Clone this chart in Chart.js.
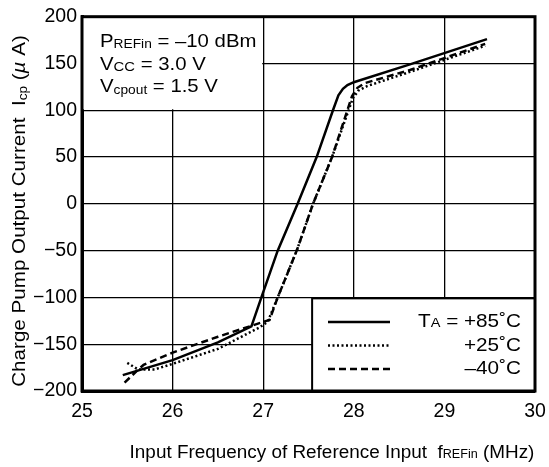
<!DOCTYPE html>
<html lang="en">
<head>
    <meta charset="UTF-8">
    <title>Charge Pump Output Current</title>
    <script src="https://cdn.jsdelivr.net/npm/chart.js"></script>
    <style>
        html, body { margin: 0; padding: 0; background: #fff; }
        #wrap { width: 549px; height: 467px; }
    </style>
</head>
<body>
    <div id="wrap"><canvas id="chart" width="549" height="467"></canvas></div>

    <script>
        // values (MHz, uA)
        const freqHot = [25.45, 26.0, 26.5, 26.87, 26.98, 27.16, 27.38, 27.59, 27.77, 27.83, 27.88, 27.93, 28.0, 28.62, 29.47];
        const curHot  = [-183, -167, -148, -131, -100, -50, 0, 50, 100, 116, 123, 127, 130, 149, 176];

        const freqRoom = [25.5, 25.62, 25.8, 26.0, 26.5, 26.96, 27.05, 27.16, 27.37, 27.55, 27.76, 27.99, 28.05, 28.15, 28.62, 29.45];
        const curRoom  = [-170, -177, -177, -171, -155, -132, -126, -100, -50, 0, 50, 113, 121, 126, 141, 169];

        const freqCold = [25.47, 25.6, 25.68, 26.0, 26.5, 27.07, 27.16, 27.37, 27.55, 27.76, 27.98, 28.04, 28.12, 28.62, 29.45];
        const curCold  = [-191, -179, -172, -159, -142, -124, -100, -50, 0, 50, 115, 124, 129, 143, 171];

        const xTicks = [25, 26, 27, 28, 29, 30];
        const yTicks = [-200, -150, -100, -50, 0, 50, 100, 150, 200];

        const FONT = '"Liberation Sans", Arial, sans-serif';

        function pts(xs, ys) {
            return xs.map((x, i) => ({ x: x, y: ys[i] }));
        }

        // draw a line of text made of runs: [text, size, dy, italic]
        // sx stretches it sideways (the original lettering is a bit wide)
        function drawRuns(ctx, x, y, parts, align, sx) {
            sx = sx || 1;
            const setFont = p => { ctx.font = (p[3] ? 'italic ' : '') + p[1] + 'px ' + FONT; };
            let w = 0;
            parts.forEach(p => { setFont(p); w += ctx.measureText(p[0]).width; });
            w *= sx;
            let cx = align === 'right' ? x - w : (align === 'center' ? x - w / 2 : x);
            ctx.save();
            ctx.translate(cx, y);
            ctx.scale(sx, 1);
            let px = 0;
            parts.forEach(p => {
                setFont(p);
                ctx.fillText(p[0], px, p[2] || 0);
                px += ctx.measureText(p[0]).width;
            });
            ctx.restore();
        }

        const decorations = {
            id: 'decorations',
            beforeDatasetsDraw(chart) {
                // white patch behind the conditions text
                const { ctx, scales: { x, y } } = chart;
                const x0 = x.getPixelForValue(25), x1 = x.getPixelForValue(27);
                const y0 = y.getPixelForValue(200), y1 = y.getPixelForValue(100);
                ctx.save();
                ctx.fillStyle = '#fff';
                ctx.fillRect(x0 + 1, y0 + 1, x1 - x0 - 2, y1 - y0 - 2);
                ctx.restore();
            },
            afterDatasetsDraw(chart) {
                const { ctx, chartArea: a, scales: { x, y } } = chart;
                ctx.save();
                ctx.fillStyle = '#000';
                ctx.textBaseline = 'alphabetic';
                ctx.textAlign = 'left';

                // conditions
                drawRuns(ctx, 100, 47, [['P', 18.5], ['REFin', 12.5, 1], [' = \u201310 dBm', 18.5]], 'left', 1.1);
                drawRuns(ctx, 100, 70, [['V', 18.5], ['CC', 13.5, 1], [' = 3.0 V', 18.5]], 'left', 1.1);
                drawRuns(ctx, 100, 92, [['V', 18.5], ['cpout', 12.5, 2], [' = 1.5 V', 18.5]], 'left', 1.1);

                // legend box
                const lx = x.getPixelForValue(27.54), ly = y.getPixelForValue(-101);
                ctx.fillStyle = '#fff';
                ctx.fillRect(lx, ly, a.right - lx, a.bottom - ly);
                ctx.strokeStyle = '#000';
                ctx.lineWidth = 2;
                ctx.strokeRect(lx, ly, a.right - lx, a.bottom - ly);

                const rows = [
                    { dash: [], parts: [['T', 18.5], ['A', 13, 0], [' = +85\u02DAC', 18.5]] },
                    { dash: [2, 2.5], parts: [['+25\u02DAC', 18.5]] },
                    { dash: [7, 4], parts: [['\u201340\u02DAC', 18.5]] }
                ];
                ctx.lineWidth = 2.5;
                rows.forEach((r, i) => {
                    const yy = 322 + i * 23.5;
                    ctx.setLineDash(r.dash);
                    ctx.beginPath();
                    ctx.moveTo(328, yy);
                    ctx.lineTo(390, yy);
                    ctx.stroke();
                    ctx.setLineDash([]);
                    ctx.fillStyle = '#000';
                    drawRuns(ctx, 521, yy + 5, r.parts, 'right', 1.12);
                });
                ctx.restore();
            },
            afterDraw(chart) {
                const { ctx, chartArea: a } = chart;
                ctx.save();
                // plot frame
                ctx.strokeStyle = '#000';
                ctx.lineWidth = 3;
                ctx.strokeRect(a.left, a.top, a.right - a.left, a.bottom - a.top);

                ctx.fillStyle = '#000';
                ctx.textBaseline = 'alphabetic';
                // x axis title
                drawRuns(ctx, 332, 458, [
                    ['Input Frequency of Reference Input  f', 18],
                    ['REFin', 12, 0],
                    [' (MHz)', 18]
                ], 'center', 1.05);

                // y axis title
                ctx.translate(25, 211);
                ctx.rotate(-Math.PI / 2);
                drawRuns(ctx, 0, 0, [
                    ['Charge Pump Output Current  I', 19],
                    ['cp', 12.5, 2],
                    [' (', 19],
                    ['\u00B5', 19, 0, true],
                    [' A)', 19]
                ], 'center', 1.085);
                ctx.restore();
            }
        };

        const lineStyle = { borderColor: '#000', borderWidth: 2.5, pointRadius: 0, fill: false, tension: 0, borderCapStyle: 'butt' };

        new Chart(document.getElementById('chart'), {
            type: 'line',
            data: {
                datasets: [
                    Object.assign({ label: '+85', data: pts(freqHot, curHot) }, lineStyle),
                    Object.assign({ label: '+25', data: pts(freqRoom, curRoom), borderDash: [2, 2.5] }, lineStyle),
                    Object.assign({ label: '-40', data: pts(freqCold, curCold), borderDash: [7, 4] }, lineStyle)
                ]
            },
            options: {
                responsive: false,
                animation: false,
                layout: { padding: { top: 15, right: 14, left: 0, bottom: 0 } },
                plugins: { legend: { display: false }, tooltip: { enabled: false } },
                scales: {
                    x: {
                        type: 'linear',
                        min: xTicks[0],
                        max: xTicks[xTicks.length - 1],
                        afterBuildTicks: s => { s.ticks = xTicks.map(v => ({ value: v })); },
                        afterFit: s => { s.height = 76; s.paddingRight = 0; s.paddingLeft = 0; },
                        grid: { color: '#000', lineWidth: 1.3, drawTicks: false },
                        border: { color: '#000', width: 3 },
                        ticks: { color: '#000', padding: 9, font: { family: FONT, size: 19.5 }, maxRotation: 0 }
                    },
                    y: {
                        min: yTicks[0],
                        max: yTicks[yTicks.length - 1],
                        afterBuildTicks: s => { s.ticks = yTicks.map(v => ({ value: v })); },
                        afterFit: s => { s.width = 82; },
                        grid: { color: '#000', lineWidth: 1.3, drawTicks: false },
                        border: { color: '#000', width: 3 },
                        ticks: {
                            color: '#000', padding: 5, font: { family: FONT, size: 19.5 },
                            callback: v => String(v).replace('-', '\u2212')
                        }
                    }
                }
            },
            plugins: [decorations]
        });
    </script>
</body>
</html>
